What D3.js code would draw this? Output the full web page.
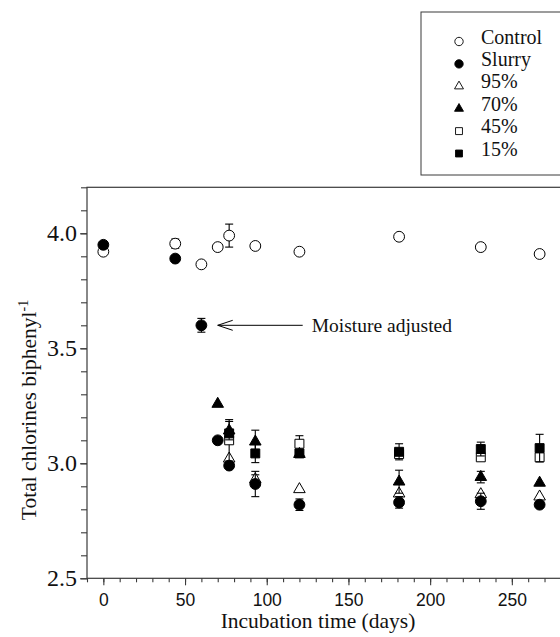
<!DOCTYPE html>
<html>
<head>
<meta charset="utf-8">
<script src="https://cdn.jsdelivr.net/npm/d3@7"></script>
<style>
  body { margin: 0; background: #fff; }
  svg { display: block; }
</style>
</head>
<body>
<div id="app"></div>
<script>
// series data (days, value, sd)
const seriesNames = ["Control", "Slurry", "95%", "70%", "45%", "15%"];

const controlDays = [0, 44, 60, 70, 77, 93, 120, 181, 231, 267];
const controlVals = [3.92, 3.955, 3.865, 3.94, 3.99, 3.945, 3.92, 3.985, 3.94, 3.91];
const controlErr  = [0, 0.02, 0, 0, 0.05, 0, 0, 0, 0, 0];

const slurryDays = [0, 44, 60, 70, 77, 93, 120, 181, 231, 267];
const slurryVals = [3.95, 3.89, 3.60, 3.10, 2.99, 2.91, 2.82, 2.83, 2.835, 2.82];
const slurryErr  = [0, 0, 0.03, 0, 0, 0.055, 0.025, 0.025, 0.035, 0];

const p95Days = [77, 93, 120, 181, 231, 267];
const p95Vals = [3.02, 2.93, 2.887, 2.868, 2.865, 2.855];
const p95Err  = [0, 0.02, 0, 0, 0, 0];

const p70Days = [70, 77, 93, 120, 181, 231, 267];
const p70Vals = [3.258, 3.142, 3.094, 3.04, 2.92, 2.94, 2.915];
const p70Err  = [0, 0.04, 0.05, 0, 0.05, 0.025, 0];

const p45Days = [77, 120, 181, 231, 267];
const p45Vals = [3.10, 3.085, 3.04, 3.026, 3.026];
const p45Err  = [0.09, 0.035, 0, 0, 0];

const p15Days = [77, 93, 120, 181, 231, 267];
const p15Vals = [3.13, 3.043, 3.043, 3.05, 3.062, 3.066];
const p15Err  = [0, 0.04, 0, 0.035, 0.03, 0.06];

const xTickLabels = [0, 50, 100, 150, 200, 250];
const yTickLabels = [2.5, 3.0, 3.5, 4.0];

// annotation: arrow to the moisture-adjusted point
const noteText = "Moisture adjusted";
const noteDay  = [70, 122];
const noteVal  = 3.6;

const W = 560, H = 637;
const m = { t: 187.3, l: 87, b: 578.3 };

const svg = d3.select("#app").append("svg")
    .attr("width", W)
    .attr("height", H);

const xScale = d3.scaleLinear()
    .domain([-10, 290])
    .range([m.l, m.l + 300 * 1.634]);

const yScale = d3.scaleLinear()
    .domain([2.5, 4.2])
    .range([m.b, m.t]);

const serif = "'Liberation Serif', 'Times New Roman', serif";
const sans  = "'Liberation Sans', Arial, sans-serif";
const axisCol = "#3a3a3a";

// frame
svg.append("rect")
    .attr("x", xScale(-10))
    .attr("y", yScale(4.2))
    .attr("width", xScale(290) - xScale(-10))
    .attr("height", yScale(2.5) - yScale(4.2))
    .attr("fill", "none")
    .attr("stroke", axisCol)
    .attr("stroke-width", 1.2);

// x axis: minor + major ticks
const xMinor = svg.append("g")
    .attr("transform", "translate(0," + yScale(2.5) + ")")
    .call(d3.axisBottom(xScale).tickValues(d3.range(-10, 291, 10)).tickSize(4).tickFormat(""));
const xMajor = svg.append("g")
    .attr("transform", "translate(0," + yScale(2.5) + ")")
    .call(d3.axisBottom(xScale).tickValues(xTickLabels).tickSize(7).tickPadding(8).tickFormat(d3.format("d")));
xMajor.selectAll("text")
    .style("font-family", sans)
    .style("font-size", "17.5px")
    .attr("fill", "#111");

// y axis
const yMinor = svg.append("g")
    .attr("transform", "translate(" + xScale(-10) + ",0)")
    .call(d3.axisLeft(yScale).tickValues(d3.range(25, 43).map(v => v / 10)).tickSize(6).tickFormat(""));
const yMajor = svg.append("g")
    .attr("transform", "translate(" + xScale(-10) + ",0)")
    .call(d3.axisLeft(yScale).tickValues(yTickLabels).tickSize(7).tickPadding(3).tickFormat(d3.format(".1f")));
yMajor.selectAll("text")
    .style("font-family", serif)
    .style("font-size", "24px")
    .attr("fill", "#111");

[xMinor, xMajor, yMinor, yMajor].forEach(g => {
    g.select(".domain").remove();
    g.selectAll("line").attr("stroke", axisCol).attr("stroke-width", 1.1);
});

// axis titles
svg.append("text")
    .attr("x", 318)
    .attr("y", 628)
    .attr("text-anchor", "middle")
    .style("font-family", serif)
    .style("font-size", "21.5px")
    .attr("fill", "#111")
    .text("Incubation time (days)");

const yTitle = svg.append("text")
    .attr("transform", "translate(36,410) rotate(-90)")
    .attr("text-anchor", "middle")
    .style("font-family", serif)
    .style("font-size", "21.5px")
    .attr("fill", "#111");
yTitle.append("tspan").text("Total chlorines biphenyl");
yTitle.append("tspan").attr("dy", -8).style("font-size", "14px").text("-1");

// marker shapes
const shapes = {
    "Control": { type: d3.symbolCircle,   size: 92, fill: "#fff" },
    "Slurry":  { type: d3.symbolCircle,   size: 92, fill: "#000" },
    "95%":     { type: d3.symbolTriangle, size: 58, fill: "#fff" },
    "70%":     { type: d3.symbolTriangle, size: 58, fill: "#000" },
    "45%":     { type: d3.symbolSquare,   size: 80, fill: "#fff" },
    "15%":     { type: d3.symbolSquare,   size: 80, fill: "#000" }
};

function toPoints(days, vals, errs) {
    return days.map((d, i) => ({ day: d, val: vals[i], err: errs[i] }));
}

const series = {
    "Control": toPoints(controlDays, controlVals, controlErr),
    "Slurry":  toPoints(slurryDays, slurryVals, slurryErr),
    "95%":     toPoints(p95Days, p95Vals, p95Err),
    "70%":     toPoints(p70Days, p70Vals, p70Err),
    "45%":     toPoints(p45Days, p45Vals, p45Err),
    "15%":     toPoints(p15Days, p15Vals, p15Err)
};

// draw order: open markers underneath filled ones
const drawOrder = ["Control", "95%", "45%", "70%", "15%", "Slurry"];
const cap = 4;

drawOrder.forEach(name => {
    const g = svg.append("g").attr("class", "series");
    const pts = series[name];
    const eb = g.selectAll("g.err")
        .data(pts.filter(d => d.err > 0)).enter()
        .append("g")
        .attr("class", "err")
        .attr("stroke", "#000")
        .attr("stroke-width", 1.1);
    eb.append("line")
        .attr("x1", d => xScale(d.day)).attr("x2", d => xScale(d.day))
        .attr("y1", d => yScale(d.val - d.err)).attr("y2", d => yScale(d.val + d.err));
    eb.append("line")
        .attr("x1", d => xScale(d.day) - cap).attr("x2", d => xScale(d.day) + cap)
        .attr("y1", d => yScale(d.val + d.err)).attr("y2", d => yScale(d.val + d.err));
    eb.append("line")
        .attr("x1", d => xScale(d.day) - cap).attr("x2", d => xScale(d.day) + cap)
        .attr("y1", d => yScale(d.val - d.err)).attr("y2", d => yScale(d.val - d.err));

    const s = shapes[name];
    g.selectAll("path.mark")
        .data(pts).enter()
        .append("path")
        .attr("class", "mark")
        .attr("d", d3.symbol().type(s.type).size(s.size))
        .attr("transform", d => "translate(" + xScale(d.day) + "," + yScale(d.val) + ")")
        .attr("fill", s.fill)
        .attr("stroke", "#000")
        .attr("stroke-width", 1);
});

// annotation arrow
const ax0 = xScale(noteDay[0]), ax1 = xScale(noteDay[1]), ay = yScale(noteVal);
svg.append("line")
    .attr("x1", ax0).attr("x2", ax1).attr("y1", ay).attr("y2", ay)
    .attr("stroke", "#000").attr("stroke-width", 1);
svg.append("path")
    .attr("d", "M" + (ax0 + 15) + "," + (ay - 5) + " L" + ax0 + "," + ay + " L" + (ax0 + 15) + "," + (ay + 5))
    .attr("fill", "none")
    .attr("stroke", "#000")
    .attr("stroke-width", 1);
svg.append("text")
    .attr("x", ax1 + 9)
    .attr("y", ay + 7)
    .style("font-family", serif)
    .style("font-size", "19.5px")
    .attr("fill", "#111")
    .text(noteText);

// legend
const legend = svg.append("g").attr("class", "legend");
legend.append("rect")
    .attr("x", 421).attr("y", 12)
    .attr("width", 160).attr("height", 163)
    .attr("fill", "#fff")
    .attr("stroke", axisCol)
    .attr("stroke-width", 1);

const rows = legend.selectAll("g.row")
    .data(seriesNames).enter()
    .append("g")
    .attr("class", "row")
    .attr("transform", (d, i) => "translate(0," + (43.5 + i * 22.4) + ")");
rows.append("path")
    .attr("d", d => d3.symbol().type(shapes[d].type).size(shapes[d].size * 0.6)())
    .attr("transform", "translate(459,-2)")
    .attr("fill", d => shapes[d].fill)
    .attr("stroke", "#000")
    .attr("stroke-width", 0.9);
rows.append("text")
    .attr("x", 481)
    .style("font-family", serif)
    .style("font-size", "20px")
    .attr("fill", "#111")
    .text(d => d);
</script>
</body>
</html>
